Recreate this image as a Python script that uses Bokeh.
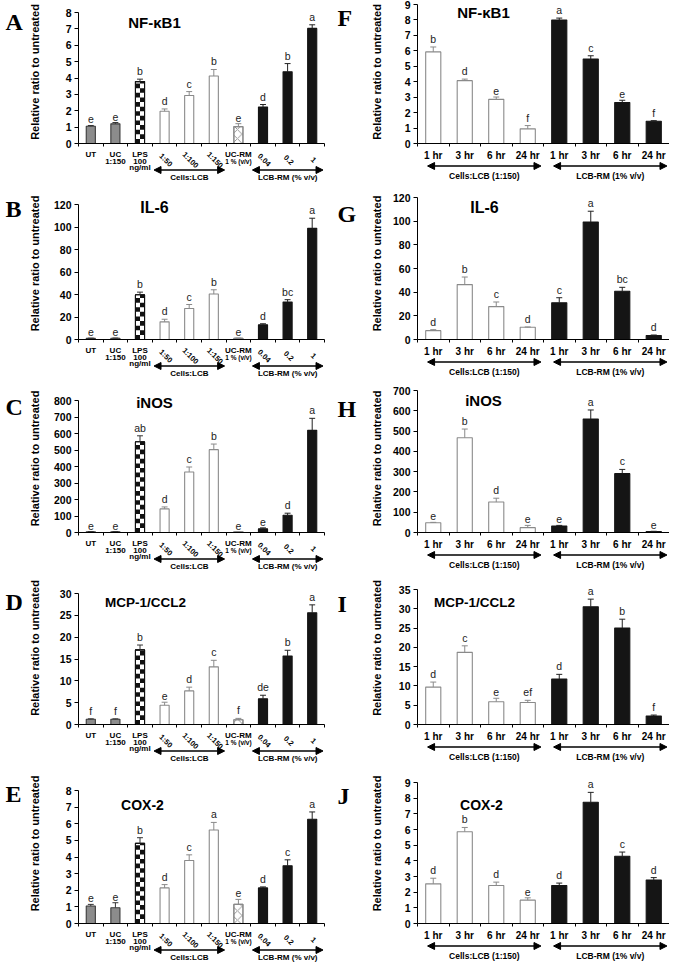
import math
import numpy as np
from bokeh.plotting import figure
from bokeh.models import FixedTicker, Label, Arrow, NormalHead, Range1d
from bokeh.layouts import column, row
from bokeh.embed import file_html
from bokeh.resources import INLINE
from bokeh.core.properties import value

# ---------------- data ----------------
Y_LABEL = "Relative ratio to untreated"

DOSE_TICK_L1 = ["UT", "UC", "LPS", "", "", "", "UC-RM", "", "", ""]
DOSE_TICK_L2 = ["", "1:150", "100", "", "", "", "", "", "", ""]
DOSE_TICK_L3 = ["", "", "ng/ml", "", "", "", "", "", "", ""]
DOSE_SLANT_TEXT = ["", "", "", "1:50", "1:100", "1:150", "", "0.04", "0.2", "1"]
DOSE_SUB_TEXT = ["", "", "", "", "", "", "1 % (v/v)", "", "", ""]
DOSE_GROUPS = ["Cells:LCB", "LCB-RM (% v/v)"]
DOSE_GROUP_MEMBERS = [[3, 5], [7, 9]]

TIME_TICK_TEXT = ["1 hr", "3 hr", "6 hr", "24 hr", "1 hr", "3 hr", "6 hr", "24 hr"]
TIME_GROUPS = ["Cells:LCB (1:150)", "LCB-RM (1% v/v)"]
TIME_GROUP_MEMBERS = [[0, 3], [4, 7]]

GENES = ["NF-κB1", "IL-6", "iNOS", "MCP-1/CCL2", "COX-2"]
LETTERS_LEFT = ["A", "B", "C", "D", "E"]
LETTERS_RIGHT = ["F", "G", "H", "I", "J"]

nfkb1_dose = [1.05, 1.2, 3.78, 1.97, 2.93, 4.12, 1.03, 2.23, 4.38, 7.03]
nfkb1_dose_err = [0.05, 0.08, 0.15, 0.14, 0.24, 0.4, 0.18, 0.15, 0.5, 0.22]
nfkb1_dose_sig = ["e", "e", "b", "d", "c", "b", "e", "d", "b", "a"]

il6_dose = [1.0, 1.1, 39.8, 15.7, 27.6, 40.4, 1.0, 13.1, 33.4, 98.8]
il6_dose_err = [0.2, 0.2, 2.3, 2.3, 3.5, 3.8, 0.3, 0.9, 2.0, 9.0]
il6_dose_sig = ["e", "e", "b", "d", "c", "b", "e", "d", "bc", "a"]

inos_dose = [5, 5, 550, 143, 367, 502, 5, 22, 105, 619]
inos_dose_err = [1, 1, 36, 12, 30, 34, 1, 6, 12, 73]
inos_dose_sig = ["e", "e", "ab", "d", "c", "b", "e", "e", "d", "a"]

mcp1_dose = [1.2, 1.2, 17.1, 4.4, 7.7, 13.2, 1.1, 5.9, 15.7, 25.6]
mcp1_dose_err = [0.1, 0.1, 1.1, 0.7, 0.85, 1.5, 0.3, 0.8, 1.3, 1.8]
mcp1_dose_sig = ["f", "f", "b", "e", "d", "c", "f", "de", "b", "a"]

cox2_dose = [1.05, 0.95, 4.82, 2.14, 3.79, 5.62, 1.15, 2.14, 3.47, 6.27]
cox2_dose_err = [0.1, 0.3, 0.34, 0.2, 0.34, 0.46, 0.3, 0.06, 0.36, 0.44]
cox2_dose_sig = ["e", "e", "b", "d", "c", "a", "e", "d", "c", "a"]

nfkb1_time = [5.93, 4.07, 2.86, 0.95, 7.99, 5.47, 2.65, 1.44]
nfkb1_time_err = [0.32, 0.1, 0.15, 0.21, 0.13, 0.21, 0.15, 0.04]
nfkb1_time_sig = ["b", "d", "e", "f", "a", "c", "e", "f"]

il6_time = [7.5, 46.4, 27.8, 10.3, 31.1, 99.2, 40.8, 3.3]
il6_time_err = [0.8, 6.4, 3.9, 0.3, 4.2, 9.2, 3.3, 0.5]
il6_time_sig = ["d", "b", "c", "d", "c", "a", "bc", "d"]

inos_time = [48, 467, 150, 24, 32, 559, 290, 5]
inos_time_err = [2, 43, 19, 11, 3, 45, 21, 1]
inos_time_sig = ["e", "b", "d", "e", "e", "a", "c", "e"]

mcp1_time = [9.7, 18.7, 5.9, 5.7, 11.8, 30.5, 25.0, 2.2]
mcp1_time_err = [1.3, 1.7, 0.9, 0.57, 1.2, 2.0, 2.3, 0.25]
mcp1_time_sig = ["d", "c", "e", "ef", "d", "a", "b", "f"]

cox2_time = [2.53, 5.86, 2.43, 1.49, 2.43, 7.74, 4.29, 2.78]
cox2_time_err = [0.36, 0.27, 0.21, 0.15, 0.15, 0.63, 0.27, 0.15]
cox2_time_sig = ["d", "b", "d", "e", "d", "a", "c", "d"]

DOSE_YMAX = [8, 120, 800, 30, 8]
DOSE_YSTEP = [1, 20, 100, 5, 1]
TIME_YMAX = [9, 120, 700, 35, 9]
TIME_YSTEP = [1, 20, 100, 5, 1]

DOSE_DATA = [(nfkb1_dose, nfkb1_dose_err, nfkb1_dose_sig), (il6_dose, il6_dose_err, il6_dose_sig),
             (inos_dose, inos_dose_err, inos_dose_sig), (mcp1_dose, mcp1_dose_err, mcp1_dose_sig),
             (cox2_dose, cox2_dose_err, cox2_dose_sig)]
TIME_DATA = [(nfkb1_time, nfkb1_time_err, nfkb1_time_sig), (il6_time, il6_time_err, il6_time_sig),
             (inos_time, inos_time_err, inos_time_sig), (mcp1_time, mcp1_time_err, mcp1_time_sig),
             (cox2_time, cox2_time_err, cox2_time_sig)]

# ---------------- styles / layout ----------------
SANS = "Liberation Sans"
SERIF = "Liberation Serif"
DOSE_STYLE = ["gray", "gray", "checker", "white", "white", "white", "cross", "black", "black", "black"]
TIME_STYLE = ["white"] * 4 + ["black"] * 4
FILL = {"gray": "#8c8c8c", "checker": "white", "white": "white", "cross": "white", "black": "#151515"}
LINEC = {"gray": "#3a3a3a", "checker": "#111111", "white": "#8a8a8a", "cross": "#8a8a8a", "black": "#151515"}
ERRC = {"gray": "#333333", "checker": "#333333", "white": "#8a8a8a", "cross": "#8a8a8a", "black": "#222222"}

ROW_H = [187, 197, 187, 192, 200]
ROW_B = [44, 45, 39, 39, 40]      # axis line to bottom of row (px)
BM = 6                             # main figure border below axis line
T_LEFT = [12, 17, 16, 22, 27]     # canvas top to top tick (px)
T_RIGHT = [4, 10, 6, 18, 19]
LETTER_TOP_LEFT = [8, 8, 9, 17, 17]
LETTER_TOP_RIGHT = [4, 13, 11, 19, 19]
TITLE_DY_LEFT = [10, 3, 2, 9, 14]
TITLE_DY_RIGHT = [8, 10, 10, 13, 22]
TITLE_DX_LEFT = [76, 76, 76, 67, 64]
TITLE_DX_RIGHT = [66, 67, 66, 57, 64]
TITLE_SIZE = ["15px", "16px", "15px", "13.5px", "14px"]
LETTER_W = 25


def letter_fig(letter, H, top):
    f = figure(width=LETTER_W, height=H, x_range=Range1d(0, LETTER_W), y_range=Range1d(-H, 0),
               x_axis_type=None, y_axis_type=None, output_backend="svg", toolbar_location=None,
               title=None, min_border_left=0, min_border_right=0, min_border_top=0, min_border_bottom=0)
    f.outline_line_color = None
    f.add_layout(Label(x=5, y=-top, text=letter, text_align="left", text_baseline="top",
                       text_font=SERIF, text_font_style="bold", text_font_size="24px",
                       text_color="black"))
    return f


def strip_text(s, xs, ys, texts, size, angle=0.0):
    keep = [i for i, t in enumerate(texts) if t]
    if not keep:
        return
    s.text(x=[xs[i] for i in keep], y=[ys[i] for i in keep], text=[texts[i] for i in keep],
           angle=angle, text_align="center", text_baseline="middle", text_font=value(SANS),
           text_font_style="bold", text_font_size=size, text_color="black")


def build(kind, title, title_size, vals, errs, sigs, ymax, ystep, H, T, B, title_dx, title_dy):
    dose = kind == "dose"
    W, L, R = (307, 50, 8) if dose else (312, 60, 0)
    n = len(vals)
    bw = 0.37 if dose else 0.48
    styles = DOSE_STYLE if dose else TIME_STYLE
    Hm = H - B + BM
    fw = W - L - R
    ppc = fw / n
    ppu = (Hm - BM - T) / ymax
    yend = ymax + T / ppu

    p = figure(width=W, height=Hm, x_range=Range1d(-0.5, n - 0.5), y_range=Range1d(0, yend),
               output_backend="svg", toolbar_location=None, title=None,
               min_border_left=L, min_border_right=R, min_border_top=0, min_border_bottom=BM)
    p.outline_line_color = None
    p.xgrid.visible = False
    p.ygrid.visible = False
    p.background_fill_color = "white"
    p.border_fill_color = "white"

    xs = np.arange(n, dtype=float)
    v = np.asarray(vals, dtype=float)
    e = np.asarray(errs, dtype=float)
    tops = v + e

    p.vbar(x=xs, top=v, width=bw, fill_color=[FILL[s] for s in styles],
           line_color=[LINEC[s] for s in styles], line_width=1.1)
    for i, s in enumerate(styles):
        if s == "cross":
            p.vbar(x=[xs[i]], top=[v[i]], width=bw, fill_color=None, line_color=LINEC[s],
                   line_width=1.1, hatch_pattern="x", hatch_color="#7a7a7a",
                   hatch_scale=bw * ppc, hatch_weight=0.8)
        if s == "checker":
            cw = bw / 2
            sh = cw * ppc / ppu
            nr = int(math.ceil(v[i] / sh))
            ql, qr, qb, qt = [], [], [], []
            for r in range(nr):
                for c in range(2):
                    if (r + c) % 2 == 0:
                        ql.append(xs[i] - bw / 2 + c * cw)
                        qr.append(xs[i] - bw / 2 + (c + 1) * cw)
                        qb.append(r * sh)
                        qt.append(min((r + 1) * sh, v[i]))
            p.quad(left=ql, right=qr, bottom=qb, top=qt, fill_color="#111111", line_color=None)
            p.vbar(x=[xs[i]], top=[v[i]], width=bw, fill_color=None, line_color=LINEC[s],
                   line_width=1.1)

    ecols = [ERRC[s] for s in styles]
    capw = 3.0 / ppc
    p.segment(x0=xs, y0=v, x1=xs, y1=tops, line_color=ecols, line_width=1)
    p.segment(x0=xs - capw, y0=tops, x1=xs + capw, y1=tops, line_color=ecols, line_width=1)
    p.text(x=xs, y=tops, text=sigs, text_align="center", text_baseline="bottom", y_offset=-2,
           text_font=value(SANS), text_font_size="10.5px", text_color="#222222")

    # y axis (line only from 0 to the top tick)
    ya = p.yaxis[0]
    ya.ticker = FixedTicker(ticks=list(range(0, ymax + 1, ystep)), minor_ticks=[])
    ya.bounds = (0, ymax)
    ya.axis_label = Y_LABEL
    ya.axis_label_text_font = SANS
    ya.axis_label_text_font_style = "bold"
    ya.axis_label_text_font_size = "11px"
    ya.axis_label_text_color = "black"
    nd = len(str(ymax))
    ya.axis_label_standoff = int(round((28.0 if dose else 25.0) - 5.84 * nd))
    ya.major_label_text_font = SANS
    ya.major_label_text_font_style = "bold"
    ya.major_label_text_font_size = "10.5px"
    ya.major_label_text_color = "black"
    ya.major_label_standoff = 3
    ya.major_tick_out = 4
    ya.major_tick_in = 0
    ya.minor_tick_line_color = None
    ya.axis_line_color = "black"
    ya.major_tick_line_color = "black"

    # x axis: line with small ticks between the categories
    xa = p.xaxis[0]
    xa.ticker = FixedTicker(ticks=[], minor_ticks=[i - 0.5 for i in range(n + 1)])
    xa.major_tick_out = 0
    xa.major_tick_in = 0
    xa.minor_tick_out = 3
    xa.minor_tick_in = 0
    xa.minor_tick_line_color = "black"
    xa.axis_line_color = "black"
    xa.major_label_text_font_size = "1px"
    xa.major_label_standoff = 0

    p.add_layout(Label(x=-0.5, y=ymax, x_offset=title_dx, y_offset=-title_dy, text=title,
                       text_align="center", text_baseline="middle", text_font=SANS,
                       text_font_style="bold", text_font_size=title_size, text_color="black"))

    # strip under the axis: category labels, arrows and group names (y = px below axis)
    s = figure(width=W, height=B - BM, x_range=p.x_range, y_range=Range1d(-B, -BM),
               x_axis_type=None, y_axis_type=None, output_backend="svg", toolbar_location=None,
               title=None, min_border_left=L, min_border_right=R, min_border_top=0,
               min_border_bottom=0)
    s.outline_line_color = None
    s.background_fill_color = "white"
    s.border_fill_color = "white"
    head = dict(size=7, fill_color="black", line_color="black")
    if dose:
        strip_text(s, xs, [-10.8] * n, DOSE_TICK_L1, "8px")
        strip_text(s, xs, [-17.6] * n, DOSE_TICK_L2, "8px")
        strip_text(s, xs, [-24.4] * n, DOSE_TICK_L3, "8px")
        strip_text(s, xs, [-18] * n, DOSE_SUB_TEXT, "6.5px")
        strip_text(s, xs + 0.05, [-16.5] * n, DOSE_SLANT_TEXT, "7.5px", angle=-math.pi / 4)
        groups, members, ext, arrow_px, label_px, gsize = DOSE_GROUPS, DOSE_GROUP_MEMBERS, (0.43, 0.44), 26.5, 34, "8px"
    else:
        strip_text(s, xs, [-12] * n, TIME_TICK_TEXT, "10px")
        groups, members, ext, arrow_px, label_px, gsize = TIME_GROUPS, TIME_GROUP_MEMBERS, (0.18, 0.42), 22.5, 32, "8.5px"
    gx, gy = [], []
    for g, (a, b) in zip(groups, members):
        x0, x1 = xs[a] - ext[0], xs[b] + ext[1]
        s.add_layout(Arrow(x_start=x0, y_start=-arrow_px, x_end=x1, y_end=-arrow_px,
                           line_color="black", line_width=1.5,
                           start=NormalHead(**head), end=NormalHead(**head)))
        gx.append((x0 + x1) / 2)
        gy.append(-label_px)
    strip_text(s, gx, gy, groups, gsize)
    return column(p, s)


rows = []
for k in range(5):
    dv, de, ds = DOSE_DATA[k]
    tv, te, ts = TIME_DATA[k]
    left = build("dose", GENES[k], TITLE_SIZE[k], dv, de, ds, DOSE_YMAX[k], DOSE_YSTEP[k],
                 ROW_H[k], T_LEFT[k], ROW_B[k], TITLE_DX_LEFT[k], TITLE_DY_LEFT[k])
    right = build("time", GENES[k], TITLE_SIZE[k], tv, te, ts, TIME_YMAX[k], TIME_YSTEP[k],
                  ROW_H[k], T_RIGHT[k], ROW_B[k], TITLE_DX_RIGHT[k], TITLE_DY_RIGHT[k])
    rows.append(row(letter_fig(LETTERS_LEFT[k], ROW_H[k], LETTER_TOP_LEFT[k]), left,
                    letter_fig(LETTERS_RIGHT[k], ROW_H[k], LETTER_TOP_RIGHT[k]), right))

layout = column(*rows)
open("out.html", "w").write(file_html(layout, INLINE))
